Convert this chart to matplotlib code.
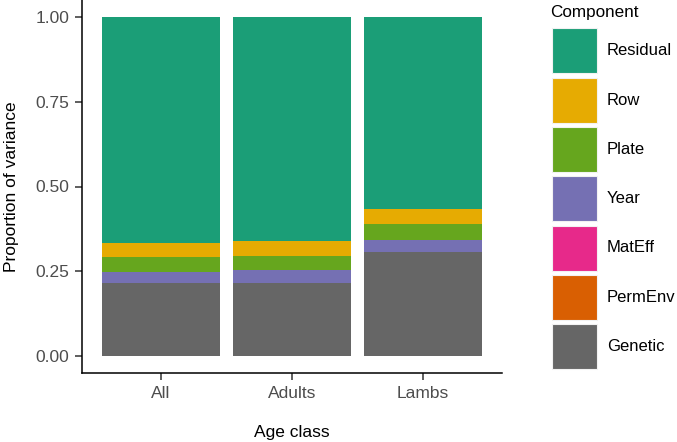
import matplotlib.pyplot as plt
from matplotlib.patches import Rectangle

plt.rcParams['font.family'] = ['Liberation Sans', 'DejaVu Sans']

age_classes = ['All', 'Adults', 'Lambs']
# stacked from the bottom up
components = ['Genetic', 'PermEnv', 'MatEff', 'Year', 'Plate', 'Row', 'Residual']
genetic = [0.215, 0.216, 0.307]
perm_env = [0.0, 0.0, 0.0]
mat_eff = [0.0, 0.0, 0.0]
year = [0.033, 0.038, 0.034]
plate = [0.045, 0.042, 0.049]
row = [0.040, 0.042, 0.044]
residual = [1 - sum(v) for v in zip(genetic, perm_env, mat_eff, year, plate, row)]

colors = {
    'Residual': '#1B9E77',
    'Row': '#E6AB02',
    'Plate': '#66A61E',
    'Year': '#7570B3',
    'MatEff': '#E7298A',
    'PermEnv': '#D95F02',
    'Genetic': '#666666',
}

series = [genetic, perm_env, mat_eff, year, plate, row, residual]

W, H = 677, 442
fig = plt.figure(figsize=(W / 100, H / 100), dpi=100)
ax = fig.add_axes([82 / W, (H - 373) / H, (502 - 82) / W, 373 / H])

x = list(range(len(age_classes)))
bottom = [0.0] * len(age_classes)
for name, vals in zip(components, series):
    ax.bar(x, vals, width=0.9, bottom=bottom, color=colors[name], linewidth=0)
    bottom = [b + v for b, v in zip(bottom, vals)]

ax.set_xlim(-0.6, 2.6)
ax.set_ylim(-0.05, 1.05)
ax.set_xticks(x)
ax.set_xticklabels(age_classes)
ax.set_yticks([0, 0.25, 0.5, 0.75, 1.0])
ax.set_yticklabels(['0.00', '0.25', '0.50', '0.75', '1.00'])

for side in ['top', 'right']:
    ax.spines[side].set_visible(False)
for side in ['left', 'bottom']:
    ax.spines[side].set_linewidth(1.1)
ax.tick_params(axis='both', length=5, width=1.1, color='#333333',
               labelcolor='#4D4D4D', labelsize=12.5, pad=4)

ax.set_xlabel('Age class', fontsize=12.5, labelpad=18)
ax.set_ylabel('Proportion of variance', fontsize=12.5, labelpad=12)

# legend drawn by hand, in pixel positions of the figure
fig.text(550 / W, 1 - 12 / H, 'Component', fontsize=12.3, va='center', ha='left')
for i, name in enumerate(reversed(components)):
    top = 28.3 + i * 49.3
    fig.add_artist(Rectangle((552 / W, 1 - (top + 45) / H), 45 / W, 45 / H,
                             transform=fig.transFigure, facecolor=colors[name],
                             edgecolor='#F2F2F2', linewidth=0.8))
    fig.text(607 / W, 1 - (top + 22.5) / H, name, fontsize=12,
             va='center', ha='left')

fig.savefig('out.png', dpi=100)
